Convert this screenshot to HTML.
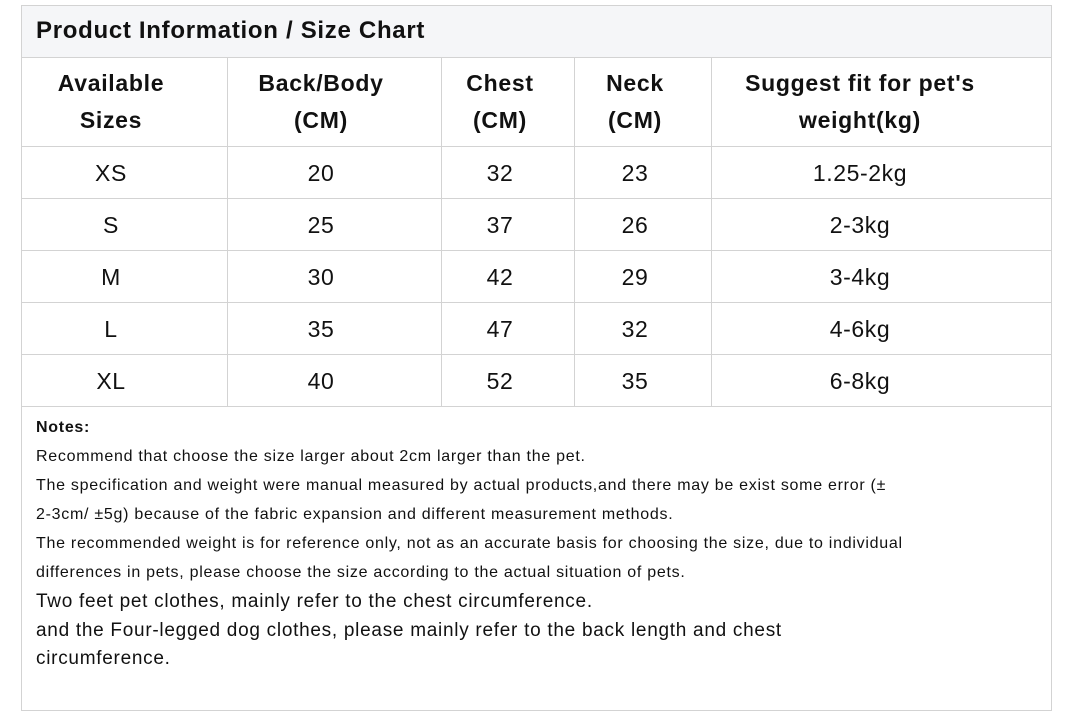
<!DOCTYPE html>
<html><head><meta charset="utf-8"><style>
body{margin:0;width:1065px;height:717px;background:#fff;font-family:"Liberation Sans",sans-serif;color:#111;position:relative;overflow:hidden}
.a{position:absolute}
.h{position:absolute;background:#d3d3d3}
.c{position:absolute;text-align:center;transform:translateX(-50%);white-space:nowrap}
.th{font-weight:bold;font-size:23px;line-height:37px;letter-spacing:0.7px}
.td{font-size:23px;line-height:26px;letter-spacing:0.6px}
.n{position:absolute;left:36px;font-size:16px;white-space:nowrap;letter-spacing:0.72px}
.n2{position:absolute;left:36px;font-size:19px;white-space:nowrap;letter-spacing:0.72px}
</style></head><body>
<div class="a" style="left:21px;top:5px;width:1029px;height:704px;border:1px solid #d3d3d3"></div>
<div class="a" style="left:22px;top:6px;width:1029px;height:51px;background:#f5f6f8"></div>
<div class="a" style="left:36px;top:17px;font-weight:bold;font-size:24px;letter-spacing:0.7px">Product Information / Size Chart</div>
<div class="h" style="left:21px;top:57px;width:1030px;height:1px"></div>
<div class="h" style="left:21px;top:146px;width:1030px;height:1px"></div>
<div class="h" style="left:21px;top:198px;width:1030px;height:1px"></div>
<div class="h" style="left:21px;top:250px;width:1030px;height:1px"></div>
<div class="h" style="left:21px;top:302px;width:1030px;height:1px"></div>
<div class="h" style="left:21px;top:354px;width:1030px;height:1px"></div>
<div class="h" style="left:21px;top:406px;width:1030px;height:1px"></div>
<div class="h" style="left:227px;top:57px;width:1px;height:350px"></div>
<div class="h" style="left:441px;top:57px;width:1px;height:350px"></div>
<div class="h" style="left:574px;top:57px;width:1px;height:350px"></div>
<div class="h" style="left:711px;top:57px;width:1px;height:350px"></div>

<div class="c th" style="left:111px;top:65px">Available<br>Sizes</div>
<div class="c th" style="left:321px;top:65px">Back/Body<br>(CM)</div>
<div class="c th" style="left:500px;top:65px">Chest<br>(CM)</div>
<div class="c th" style="left:635px;top:65px">Neck<br>(CM)</div>
<div class="c th" style="left:860px;top:65px">Suggest fit for pet's<br>weight(kg)</div>

<div class="c td" style="left:111px;top:160px">XS</div><div class="c td" style="left:321px;top:160px">20</div><div class="c td" style="left:500px;top:160px">32</div><div class="c td" style="left:635px;top:160px">23</div><div class="c td" style="left:860px;top:160px">1.25-2kg</div>
<div class="c td" style="left:111px;top:212px">S</div><div class="c td" style="left:321px;top:212px">25</div><div class="c td" style="left:500px;top:212px">37</div><div class="c td" style="left:635px;top:212px">26</div><div class="c td" style="left:860px;top:212px">2-3kg</div>
<div class="c td" style="left:111px;top:264px">M</div><div class="c td" style="left:321px;top:264px">30</div><div class="c td" style="left:500px;top:264px">42</div><div class="c td" style="left:635px;top:264px">29</div><div class="c td" style="left:860px;top:264px">3-4kg</div>
<div class="c td" style="left:111px;top:316px">L</div><div class="c td" style="left:321px;top:316px">35</div><div class="c td" style="left:500px;top:316px">47</div><div class="c td" style="left:635px;top:316px">32</div><div class="c td" style="left:860px;top:316px">4-6kg</div>
<div class="c td" style="left:111px;top:368px">XL</div><div class="c td" style="left:321px;top:368px">40</div><div class="c td" style="left:500px;top:368px">52</div><div class="c td" style="left:635px;top:368px">35</div><div class="c td" style="left:860px;top:368px">6-8kg</div>

<div class="n" style="top:419px;font-weight:bold">Notes:</div>
<div class="n" style="top:448px">Recommend that choose the size larger about 2cm larger than the pet.</div>
<div class="n" style="top:477px">The specification and weight were manual measured by actual products,and there may be exist some error (±</div>
<div class="n" style="top:506px">2-3cm/ ±5g) because of the fabric expansion and different measurement methods.</div>
<div class="n" style="top:535px">The recommended weight is for reference only, not as an accurate basis for choosing the size, due to individual</div>
<div class="n" style="top:564px">differences in pets, please choose the size according to the actual situation of pets.</div>
<div class="n2" style="top:591px">Two feet pet clothes, mainly refer to the chest circumference.</div>
<div class="n2" style="top:620px">and the Four-legged dog clothes, please mainly refer to the back length and chest</div>
<div class="n2" style="top:648px">circumference.</div>
</body></html>
